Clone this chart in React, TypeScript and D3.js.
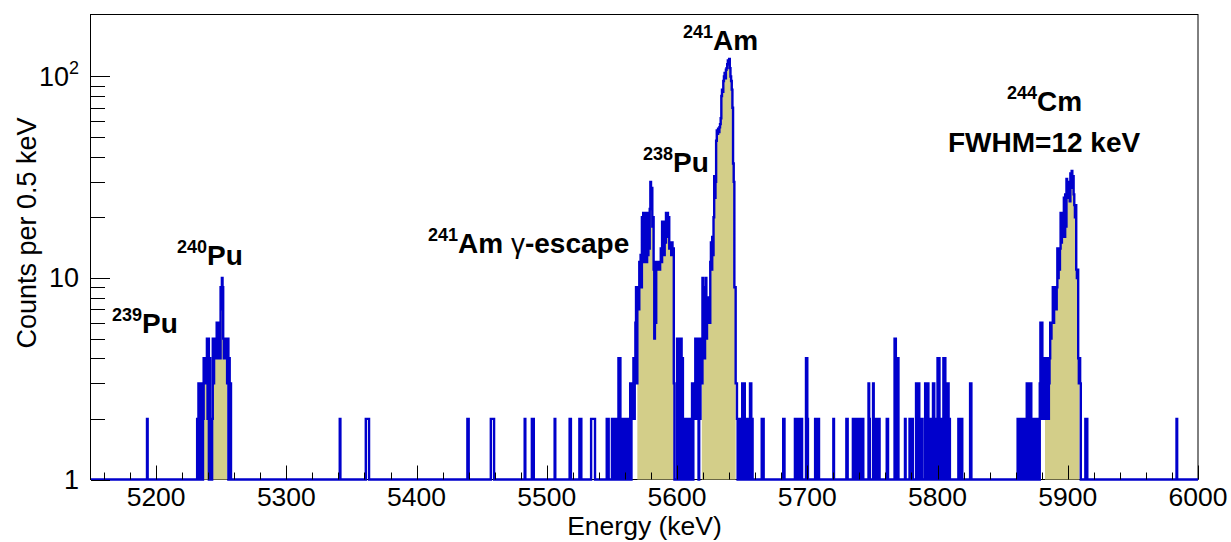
import React from 'react'
import * as d3 from 'd3'

// histogram binning
const binWidth = 0.5
const energyMin = 5150
const energyMax = 6000

// 240Pu group, counts per 0.5 keV bin from 5231.5 keV
const pu240Start = 5231.5
const pu240Counts = [
  2, 2, 3, 0, 2, 3, 1, 3, 0, 2,
  4, 3, 4, 3, 4,
  5, 2, 5, 0, 4, 0, 0, 0, 2, 5, 3, 5,
  5, 4, 5, 6, 4, 6, 5, 6, 4, 9, 7, 10, 9, 5, 4, 5, 4, 5, 4,
  3, 5, 0, 4, 0, 3, 0,
]

// 241Am escape, 238Pu and 241Am group, from 5546 keV
const amStart = 5546
const amCounts = [
  2, 0, 2, 0, 0, 0, 0, 0,
  2, 0, 2, 1, 2, 0, 2, 0, 0, 2,
  4, 0, 4, 2, 0, 2,
  0, 2, 0, 0, 2, 0, 2, 0, 0, 2, 0, 2,
  3, 0, 3, 2, 3, 4, 2, 4,
  6, 9, 3, 8, 9, 7,
  12, 10, 13, 9,
  20, 14, 21, 12, 19, 13,
  21, 12, 18, 13, 21, 14,
  22, 30, 25, 28, 18, 20,
  11, 5, 12, 6, 11,
  12, 11, 12, 12, 11, 12,
  14, 12, 19, 14, 17, 13, 19,
  15, 21, 18, 21, 16, 20, 14, 15,
  14, 13, 15, 14, 14,
  3, 0, 1, 0, 1,
  5, 2, 5, 0, 5, 3, 5, 0, 4,
  2, 0, 2, 1, 2, 0, 2, 2, 0, 2, 1, 2, 0, 2,
  3, 0, 3, 2, 3,
  5, 2, 5, 3, 4, 0, 5, 2, 5, 3,
  3, 10, 6, 9, 4, 8, 10, 5,
  8, 6, 7, 8, 6, 12,
  15, 11, 16, 13,
  20, 32, 25, 30,
  48, 54, 52, 55, 53, 56, 58, 62,
  80, 86, 84, 95,
  100, 104, 98, 108, 110, 115,
  120, 118, 122, 110,
  100, 95, 86, 70,
  37, 30, 9, 9,
  3, 3, 2, 0, 2, 2, 0, 2, 2, 0,
  3, 3, 0, 3, 0, 0, 0, 2, 0, 2, 0, 0, 3, 3, 0, 2, 0,
]

// 244Cm group, from 5861.5 keV
const cmStart = 5861.5
const cmCounts = [
  2, 0, 2, 2, 0, 2, 1, 2, 0, 2, 2, 0, 2, 0, 3, 2, 0, 3, 3, 0, 3,
  2, 0, 2, 1, 2, 0, 2, 2,
  0, 0, 0,
  2, 0, 3, 6, 2, 6, 3, 2, 4, 3,
  4, 2, 4, 3, 4, 2, 3, 4,
  6, 5, 6, 6, 9, 6, 9, 8, 9, 7, 9,
  14, 10, 14, 11, 14,
  21, 15, 20, 16, 21,
  25, 16, 26, 18, 31, 25, 30, 29, 25, 24,
  33, 28, 34, 30, 32, 26,
  23, 20, 23, 11, 10, 11, 4, 3,
  4, 3, 0, 0, 0, 0, 0, 0, 0, 2, 0, 2, 0,
]

// scattered single bins [energy keV, counts]
const scatterBins: [number, number][] = [
  [5193, 2], [5341, 2], [5361, 2], [5361.5, 2], [5362, 2], [5362.5, 2], [5363, 2],
  [5439, 2], [5439.5, 2], [5457, 2], [5457.5, 2], [5458, 2], [5458.5, 2], [5459, 2],
  [5483, 2], [5488.5, 2], [5489, 2], [5489.5, 2], [5506, 2], [5517.5, 2], [5518, 2],
  [5525, 2], [5525.5, 2], [5526, 2], [5534, 2], [5534.5, 2], [5535, 2], [5535.5, 2],
  [5536, 2], [5536.5, 2],
  [5665, 2], [5666, 2], [5681.5, 2], [5682, 2], [5690.5, 2], [5691, 2], [5692.5, 2],
  [5693, 2], [5694, 2], [5695.5, 2], [5699, 4], [5699.5, 4], [5700, 2], [5706, 2],
  [5706.5, 2], [5708, 2], [5708.5, 2], [5720, 2], [5730, 2], [5730.5, 2], [5735, 2],
  [5736, 2], [5736.5, 2], [5738, 2], [5739, 2], [5740, 2], [5741.5, 2], [5742.5, 2],
  [5747, 3], [5747.5, 2], [5750.5, 3], [5751, 2], [5752.5, 2], [5753.5, 2], [5755, 2],
  [5761, 2], [5761.5, 2], [5767, 5], [5767.5, 5], [5768.5, 4], [5769.5, 4], [5775, 2],
  [5778.5, 2], [5779.5, 2], [5780.5, 2], [5783.5, 3], [5784.5, 3], [5785.5, 3],
  [5787, 2], [5788, 2], [5790.5, 3], [5791.5, 3], [5792.5, 3], [5794, 2], [5795, 2],
  [5796.5, 3], [5797, 3], [5798.5, 2], [5800, 4], [5801, 4], [5802.5, 2], [5804.5, 4],
  [5805.5, 4], [5807, 3], [5808, 3], [5809, 2], [5816, 2], [5817, 2], [5818.5, 2],
  [5825, 3], [5825.5, 3], [5983.5, 2],
]

// energy windows drawn filled
const fillRanges: [number, number][] = [
  [5236.5, 5254.5], [5569.5, 5597.5], [5619, 5645], [5882.5, 5909],
]

const xTickLabels = [5200, 5300, 5400, 5500, 5600, 5700, 5800, 5900, 6000]
const yMajorTicks = [1, 10, 100]
const yMinorTicks = [2, 3, 4, 5, 6, 7, 8, 9, 20, 30, 40, 50, 60, 70, 80, 90]

const blue = '#0000cc'
const khaki = '#d3ce89'
const font = '"Liberation Sans", Arial, Helvetica, sans-serif'

// build the full histogram
const nBins = Math.round((energyMax - energyMin) / binWidth)
const counts: number[] = new Array(nBins).fill(0)
const put = (start: number, arr: number[]) => {
  arr.forEach((c, i) => {
    const idx = Math.round((start + i * binWidth - energyMin) / binWidth)
    if (idx >= 0 && idx < nBins) counts[idx] = c
  })
}
put(pu240Start, pu240Counts)
put(amStart, amCounts)
put(cmStart, cmCounts)
scatterBins.forEach(([e, c]) => put(e, [c]))

const W = 1231, H = 542
const frame = { left: 91, right: 1198, top: 14.5, bottom: 479.5 }

const App = () => {
  const x = d3.scaleLinear().domain([energyMin, energyMax]).range([frame.left, frame.right])
  const y = d3.scaleLog().domain([1, 203]).range([frame.bottom, frame.top])

  const pts: [number, number][] = counts.map((c, i) => [energyMin + i * binWidth, Math.max(c, 1)])
  pts.push([energyMax, Math.max(counts[nBins - 1], 1)])

  const line = d3.line<[number, number]>()
    .x(d => x(d[0]))
    .y(d => y(d[1]))
    .curve(d3.curveStepAfter)

  const area = d3.area<[number, number]>()
    .x(d => x(d[0]))
    .y0(y(1))
    .y1(d => y(d[1]))
    .curve(d3.curveStepAfter)

  const fills = fillRanges.map(([a, b]) => {
    const sel = pts.filter(p => p[0] >= a - 1e-6 && p[0] < b - 1e-6)
    const last = sel[sel.length - 1]
    return area([...sel, [b, last[1]]])
  })

  const xMinor = d3.range(5160, 6001, 20)

  return (
    <svg width={W} height={H} style={{ position: 'absolute', left: 0, top: 0, background: '#fff' }}
      fontFamily={font}>
      <defs>
        <clipPath id="frameClip">
          <rect x={frame.left} y={frame.top - 2} width={frame.right - frame.left} height={frame.bottom - frame.top + 4} />
        </clipPath>
      </defs>
      <rect x={frame.left - 0.5} y={frame.top} width={frame.right - frame.left + 0.5} height={frame.bottom - frame.top}
        fill="none" stroke="#000" strokeWidth={1} />
      <g clipPath="url(#frameClip)">
        {fills.map((d, i) => <path key={i} d={d || ''} fill={khaki} stroke="none" />)}
        <path d={line(pts) || ''} fill="none" stroke={blue} strokeWidth={2.4} />
      </g>

      {/* x axis ticks */}
      {xMinor.map(e => {
        const xx = Math.round(x(e)) + 0.5
        const len = e % 100 === 0 ? 14 : 7
        return <line key={e} x1={xx} x2={xx} y1={frame.bottom} y2={frame.bottom - len} stroke="#000" strokeWidth={1} />
      })}
      {xTickLabels.map(e => (
        <text key={e} x={x(e)} y={506} fontSize={26.5} textAnchor="middle">{e}</text>
      ))}
      <text x={(frame.left + frame.right) / 2} y={535} fontSize={26.5} textAnchor="middle">Energy (keV)</text>

      {/* y axis ticks */}
      {yMajorTicks.map(v => {
        const yy = Math.round(y(v)) + 0.5
        return <line key={v} x1={frame.left} x2={frame.left + 19} y1={yy} y2={yy} stroke="#000" strokeWidth={1} />
      })}
      {yMinorTicks.map(v => {
        const yy = Math.round(y(v)) + 0.5
        return <line key={v} x1={frame.left} x2={frame.left + 14} y1={yy} y2={yy} stroke="#000" strokeWidth={1} />
      })}
      <text x={79} y={y(1) + 9.5} fontSize={27} textAnchor="end">1</text>
      <text x={79} y={y(10) + 9.5} fontSize={27} textAnchor="end">10</text>
      <text x={79} y={y(100) + 9.5} fontSize={27} textAnchor="end">
        10<tspan fontSize={18} dy={-12}>2</tspan>
      </text>
      <text transform={`translate(36,233) rotate(-90)`} fontSize={27} textAnchor="middle">Counts per 0.5 keV</text>

      {/* peak labels */}
      <g fontWeight="bold" fontSize={28}>
        <text x={112} y={333}><tspan fontSize={18} dy={-12}>239</tspan><tspan dy={12}>Pu</tspan></text>
        <text x={177} y={265}><tspan fontSize={18} dy={-12}>240</tspan><tspan dy={12}>Pu</tspan></text>
        <text x={428} y={253}><tspan fontSize={18} dy={-12}>241</tspan><tspan dy={12}>Am </tspan><tspan fontWeight="normal">γ</tspan><tspan>-escape</tspan></text>
        <text x={643} y={172}><tspan fontSize={18} dy={-12}>238</tspan><tspan dy={12}>Pu</tspan></text>
        <text x={683} y={50}><tspan fontSize={18} dy={-12}>241</tspan><tspan dy={12}>Am</tspan></text>
        <text x={1007} y={111}><tspan fontSize={18} dy={-12}>244</tspan><tspan dy={12}>Cm</tspan></text>
        <text x={948} y={152}>FWHM=12 keV</text>
      </g>
    </svg>
  )
}

export default App
